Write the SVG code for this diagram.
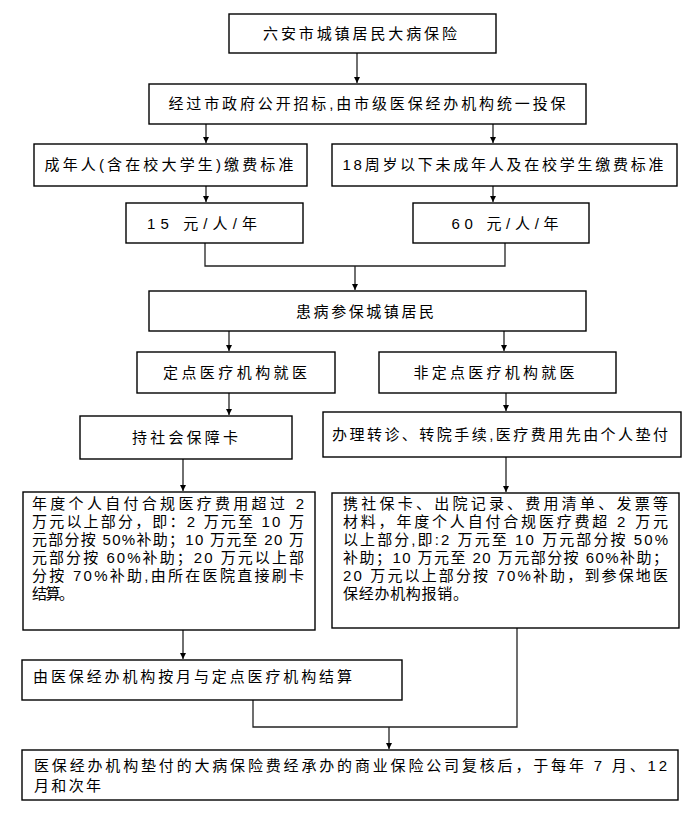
<svg xmlns="http://www.w3.org/2000/svg" width="699" height="817" viewBox="0 0 699 817">
<style>
rect.b{fill:#fff;stroke:#000;stroke-width:1.4}
text{font-family:"Liberation Sans","Noto Sans CJK SC",sans-serif;font-size:15px;fill:#000}
.c{text-anchor:middle}
#connectors path{fill:none;stroke:#222;stroke-width:1.3}
</style>
<defs>
<marker id="ah" markerWidth="8" markerHeight="8" refX="6" refY="3" orient="auto" markerUnits="userSpaceOnUse">
<path d="M0,0 L6,3 L0,6 Z" fill="#000"/>
</marker>
</defs>
<rect width="699" height="817" fill="#fff"/>
<g id="connectors">
<path d="M357,53 V83" marker-end="url(#ah)"/>
<path d="M206,124 V143" marker-end="url(#ah)"/>
<path d="M493,124 V143" marker-end="url(#ah)"/>
<path d="M206,186 V202" marker-end="url(#ah)"/>
<path d="M493,186 V202" marker-end="url(#ah)"/>
<path d="M205,243 V266 H505 V243"/>
<path d="M355,266 V290" marker-end="url(#ah)"/>
<path d="M229,331 V351" marker-end="url(#ah)"/>
<path d="M504,331 V351" marker-end="url(#ah)"/>
<path d="M229,393 V415" marker-end="url(#ah)"/>
<path d="M506,393 V411" marker-end="url(#ah)"/>
<path d="M183,459 V491" marker-end="url(#ah)"/>
<path d="M506,457 V492" marker-end="url(#ah)"/>
<path d="M183,630 V659" marker-end="url(#ah)"/>
<path d="M253,700 V727 H517 V628"/>
<path d="M389,727 V749" marker-end="url(#ah)"/>
</g>
<g id="n1"><rect class="b" x="229" y="14" width="267" height="39"/><text class="c" x="360" y="39" textLength="194" lengthAdjust="spacing">六安市城镇居民大病保险</text></g>
<g id="n2"><rect class="b" x="149" y="84" width="437" height="40"/><text class="c" x="367" y="109" textLength="397" lengthAdjust="spacing">经过市政府公开招标,由市级医保经办机构统一投保</text></g>
<g id="n3"><rect class="b" x="34" y="144" width="273" height="42"/><text class="c" x="169" y="170" textLength="249" lengthAdjust="spacing">成年人(含在校大学生)缴费标准</text></g>
<g id="n4"><rect class="b" x="332" y="144" width="345" height="42"/><text class="c" x="503" y="170" textLength="321" lengthAdjust="spacing">18周岁以下未成年人及在校学生缴费标准</text></g>
<g id="n5"><rect class="b" x="126" y="203" width="177" height="40"/><text class="c" x="202" y="229" textLength="110" lengthAdjust="spacing">15 元/人/年</text></g>
<g id="n6"><rect class="b" x="413" y="203" width="176" height="40"/><text class="c" x="505" y="229" textLength="107" lengthAdjust="spacing">60 元/人/年</text></g>
<g id="n7"><rect class="b" x="149" y="291" width="437" height="40"/><text class="c" x="365" y="317" textLength="138" lengthAdjust="spacing">患病参保城镇居民</text></g>
<g id="n8"><rect class="b" x="137" y="352" width="198" height="41"/><text class="c" x="235" y="378" textLength="144" lengthAdjust="spacing">定点医疗机构就医</text></g>
<g id="n9"><rect class="b" x="379" y="352" width="237" height="41"/><text class="c" x="494" y="378" textLength="161" lengthAdjust="spacing">非定点医疗机构就医</text></g>
<g id="n10"><rect class="b" x="80" y="416" width="212" height="43"/><text class="c" x="185" y="443" textLength="106" lengthAdjust="spacing">持社会保障卡</text></g>
<g id="n11"><rect class="b" x="323" y="412" width="358" height="45"/><text x="332" y="440" textLength="336" lengthAdjust="spacing">办理转诊、转院手续,医疗费用先由个人垫付</text></g>
<g id="n12"><rect class="b" x="23" y="492" width="292" height="138"/>
<text x="32" y="509" textLength="272" lengthAdjust="spacing">年度个人自付合规医疗费用超过 2</text>
<text x="32" y="527" textLength="272" lengthAdjust="spacing">万元以上部分，即：2 万元至 10 万</text>
<text x="32" y="545" textLength="272" lengthAdjust="spacing">元部分按 50%补助；10 万元至 20 万</text>
<text x="32" y="563" textLength="272" lengthAdjust="spacing">元部分按 60%补助；20 万元以上部</text>
<text x="32" y="581" textLength="272" lengthAdjust="spacing">分按 70%补助,由所在医院直接刷卡</text>
<text x="32" y="599" textLength="42" lengthAdjust="spacing">结算。</text>
</g>
<g id="n13"><rect class="b" x="332" y="493" width="347" height="135"/>
<text x="343" y="509" textLength="325" lengthAdjust="spacing">携社保卡、出院记录、费用清单、发票等</text>
<text x="343" y="527" textLength="325" lengthAdjust="spacing">材料，年度个人自付合规医疗费超 2 万元</text>
<text x="343" y="545" textLength="325" lengthAdjust="spacing">以上部分,即:2 万元至 10 万元部分按 50%</text>
<text x="343" y="563" textLength="325" lengthAdjust="spacing">补助；10 万元至 20 万元部分按 60%补助；</text>
<text x="343" y="581" textLength="325" lengthAdjust="spacing">20 万元以上部分按 70%补助，到参保地医</text>
<text x="343" y="599" textLength="125" lengthAdjust="spacing">保经办机构报销。</text>
</g>
<g id="n14"><rect class="b" x="22" y="660" width="380" height="40"/><text x="33" y="682" textLength="319" lengthAdjust="spacing">由医保经办机构按月与定点医疗机构结算</text></g>
<g id="n15"><rect class="b" x="22" y="750" width="656" height="50"/>
<text x="34" y="771" textLength="633" lengthAdjust="spacing">医保经办机构垫付的大病保险费经承办的商业保险公司复核后，于每年 7 月、12</text>
<text x="34" y="791" textLength="67" lengthAdjust="spacing">月和次年</text>
</g>
</svg>
